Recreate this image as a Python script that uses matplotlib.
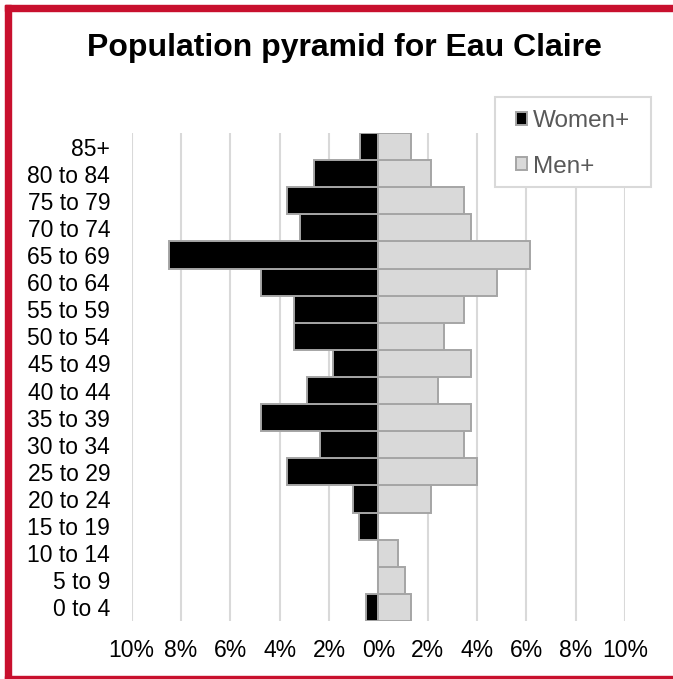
import matplotlib
matplotlib.use("Agg")
import matplotlib.pyplot as plt
from matplotlib.patches import Rectangle
from matplotlib.ticker import FuncFormatter

plt.rcParams['font.family'] = ['Liberation Sans', 'DejaVu Sans']

age_groups = ["0 to 4", "5 to 9", "10 to 14", "15 to 19", "20 to 24", "25 to 29",
              "30 to 34", "35 to 39", "40 to 44", "45 to 49", "50 to 54", "55 to 59",
              "60 to 64", "65 to 69", "70 to 74", "75 to 79", "80 to 84", "85+"]
women = [0.50, 0.0, 0.0, 0.77, 1.01, 3.71, 2.36, 4.77, 2.88, 1.82, 3.43, 3.42,
         4.75, 8.50, 3.16, 3.71, 2.62, 0.75]
men = [1.34, 1.07, 0.81, 0.0, 2.14, 4.00, 3.47, 3.74, 2.42, 3.74, 2.68, 3.47,
       4.80, 6.15, 3.74, 3.47, 2.12, 1.34]
x_ticks = [-10, -8, -6, -4, -2, 0, 2, 4, 6, 8, 10]

W, H = 673, 679
fig = plt.figure(figsize=(W/100, H/100), dpi=100)
ax = fig.add_axes([131.7/W, 58/H, (625-131.7)/W, (621-133)/H])

y = list(range(len(age_groups)))
edge = '#A5A5A5'
ax.barh(y, [-w for w in women], height=1.0, color='black', edgecolor=edge,
        linewidth=1.4, label='Women+', zorder=3)
ax.barh(y, men, height=1.0, color='#D9D9D9', edgecolor=edge,
        linewidth=1.4, label='Men+', zorder=3)

ax.set_xlim(-10, 10)
ax.set_ylim(-0.5, len(age_groups) - 0.5)
ax.set_xticks(x_ticks)
ax.xaxis.set_major_formatter(FuncFormatter(lambda v, p: f"{abs(int(round(v)))}%"))
ax.set_yticks(y)
ax.set_yticklabels(age_groups)
ax.tick_params(axis='both', length=0, labelsize=16.5, colors='black')
ax.tick_params(axis='x', pad=13)
ax.tick_params(axis='y', pad=15.5)
for s in ax.spines.values():
    s.set_visible(False)
ax.grid(axis='x', color='#D9D9D9', linewidth=1.5, zorder=0)
ax.set_axisbelow(True)

fig.text(344/W, 1 - 48/H, "Population pyramid for Eau Claire", ha='center', va='center',
         fontsize=23, fontweight='bold', color='black')

# legend box
fig.patches.append(Rectangle((495/W, 1 - 187/H), (651-495)/W, (187-97)/H,
                             transform=fig.transFigure, facecolor='white',
                             edgecolor='#D9D9D9', linewidth=1.5, zorder=5))
leg = fig.legend(loc='upper left', bbox_to_anchor=(516/W, 1 - 110/H),
                 bbox_transform=fig.transFigure, frameon=False,
                 fontsize=17.5, labelcolor='#595959', handlelength=0.45, handleheight=0.45,
                 handletextpad=0.25, labelspacing=0.97, borderpad=0, borderaxespad=0)
leg.set_zorder(6)

# red border
red = '#C8102E'
fig.patches.append(Rectangle((5/W, 0), 6/W, 1 - 5/H, transform=fig.transFigure,
                             color=red, zorder=10))
fig.patches.append(Rectangle((5/W, 1 - 11/H), 1, 6/H, transform=fig.transFigure,
                             color=red, zorder=10))
fig.patches.append(Rectangle((5/W, 0), 1, 3/H, transform=fig.transFigure,
                             color=red, zorder=10))

fig.savefig("out.png", dpi=100)
